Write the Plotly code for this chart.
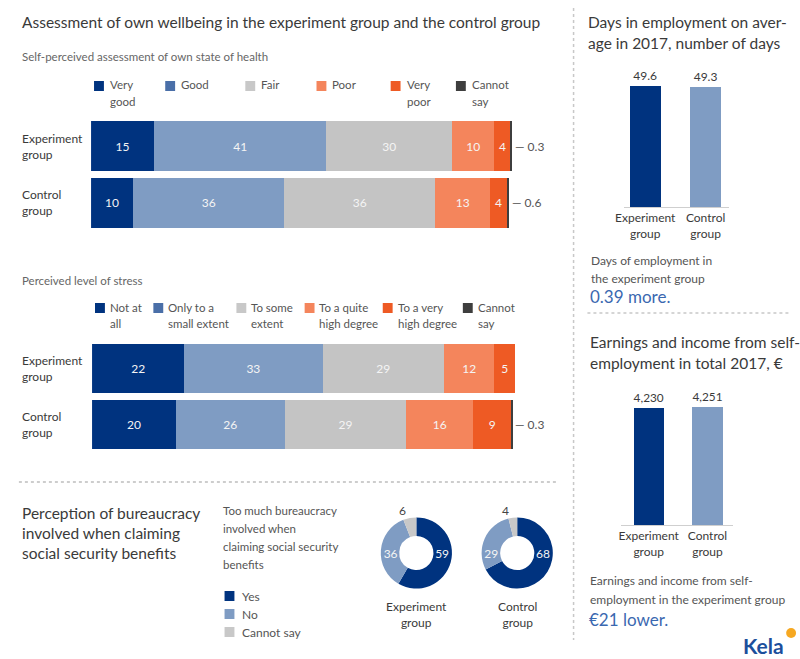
import plotly.graph_objects as go

# ---------------- data ----------------
health_cats = ["Very good", "Good", "Fair", "Poor", "Very poor", "Cannot say"]
health_legend = ["Very<br>good", "Good", "Fair", "Poor", "Very<br>poor", "Cannot<br>say"]
health_exp = [15, 41, 30, 10, 4, 0.3]
health_ctrl = [10, 36, 36, 13, 4, 0.6]

stress_cats = ["Not at all", "Only to a small extent", "To some extent",
               "To a quite high degree", "To a very high degree", "Cannot say"]
stress_legend = ["Not at<br>all", "Only to a<br>small extent", "To some<br>extent",
                 "To a quite<br>high degree", "To a very<br>high degree", "Cannot<br>say"]
stress_exp = [22, 33, 29, 12, 5, 0]
stress_ctrl = [20, 26, 29, 16, 9, 0.3]

group_rows = ["Control", "Experiment"]
group_labels = {"Experiment": "Experiment<br>group", "Control": "Control<br>group"}

bur_labels = ["Yes", "No", "Cannot say"]
bur_exp = [59, 36, 6]
bur_ctrl = [68, 29, 4]
bur_groups = ["Experiment<br>group", "Control<br>group"]

bar_groups = ["Experiment<br>group", "Control<br>group"]
days_values = [49.6, 49.3]
earn_values = [4230, 4251]

# ---------------- styles ----------------
W, H = 800, 659
FONT = "Lato"
DARK = "#00337f"
LIGHT = "#7f9cc3"
GRAY = "#c4c4c4"
SALMON = "#f4855c"
ORANGE = "#ee5a24"
CHAR = "#3e3e3e"
seg_colors = [DARK, LIGHT, GRAY, SALMON, ORANGE, CHAR]
legend_sq_colors = [DARK, "#4a6fa8", "#c8c8c8", SALMON, ORANGE, CHAR]
TXT = "#3a3a3a"
SUB = "#666666"
ACCENT = "#3a68b0"


def X(px):
    return px / W


def Y(py):
    return 1 - py / H


fig = go.Figure()
annotations = []
shapes = []


def txt(x, y, s, size=12, color=TXT, xanchor="left", yanchor="middle", **kw):
    annotations.append(dict(xref="paper", yref="paper", x=X(x), y=Y(y), text=s,
                            showarrow=False, xanchor=xanchor, yanchor=yanchor,
                            font=dict(size=size, color=color, family=FONT), **kw))


def lines(x, y0, step, items, size=12, color=TXT, xanchor="left"):
    for i, s in enumerate(items):
        txt(x, y0 + i * step, s, size=size, color=color, xanchor=xanchor)


# ---------------- stacked bars ----------------
def stacked(exp_vals, ctrl_vals, cats, xa, ya):
    for i, c in enumerate(cats):
        vals = [ctrl_vals[i], exp_vals[i]]
        is_cs = (c == "Cannot say")
        fig.add_trace(go.Bar(
            x=vals, y=group_rows, orientation="h", name=c,
            marker=dict(color=seg_colors[i], line=dict(width=0)),
            width=0.885,
            text=[("" if v == 0 else f"{v:g}") for v in vals],
            textposition="none" if is_cs else "inside",
            insidetextanchor="middle", textangle=0,
            textfont=dict(color="#f4f4f4", size=12, family=FONT),
            xaxis=xa, yaxis=ya, hoverinfo="skip"))
    # small "cannot say" values to the right of bars
    for row, vals in (("Control", ctrl_vals), ("Experiment", exp_vals)):
        if vals[-1] > 0:
            annotations.append(dict(xref=xa, yref=ya, x=sum(vals), y=row,
                                    text=f"— {vals[-1]:g}", showarrow=False,
                                    xanchor="left", xshift=1,
                                    font=dict(size=12, color="#555", family=FONT)))
    for row in group_rows:
        annotations.append(dict(xref="paper", yref=ya, x=X(11), y=row,
                                text=group_labels[row], showarrow=False,
                                xanchor="left", align="left",
                                font=dict(size=12, color=TXT, family=FONT)))


stacked(health_exp, health_ctrl, health_cats, "x", "y")
stacked(stress_exp, stress_ctrl, stress_cats, "x2", "y2")

# ---------------- donuts ----------------
pie_domains = [(376, 448), (478, 550)]
for vals, dom, glabel in zip((bur_exp, bur_ctrl), pie_domains, bur_groups):
    fig.add_trace(go.Pie(
        values=vals, labels=bur_labels, sort=False, direction="clockwise",
        rotation=0, hole=0.48,
        marker=dict(colors=[DARK, LIGHT, "#c8c8c8"], line=dict(width=0)),
        textinfo="value",
        textposition=["inside", "inside", "outside"],
        insidetextorientation="horizontal",
        insidetextfont=dict(color="#f4f4f4", size=12, family=FONT),
        outsidetextfont=dict(color="#444", size=12, family=FONT),
        domain=dict(x=[X(dom[0]), X(dom[1])], y=[Y(589), Y(517)]),
        hoverinfo="skip", showlegend=False))
    cx = (dom[0] + dom[1]) / 2
    txt(cx, 614, glabel, size=12, color=TXT, xanchor="center", align="center")

# ---------------- vertical bars ----------------
fig.add_trace(go.Bar(
    x=bar_groups, y=days_values, marker=dict(color=[DARK, LIGHT], line=dict(width=0)),
    width=0.508, text=[f"{v:g}" for v in days_values], textposition="outside",
    textfont=dict(size=12, color=TXT, family=FONT), cliponaxis=False,
    xaxis="x3", yaxis="y3", hoverinfo="skip"))
fig.add_trace(go.Bar(
    x=bar_groups, y=earn_values, marker=dict(color=[DARK, LIGHT], line=dict(width=0)),
    width=0.513, text=[f"{v:,}" for v in earn_values], textposition="outside",
    textfont=dict(size=12, color=TXT, family=FONT), cliponaxis=False,
    xaxis="x4", yaxis="y4", hoverinfo="skip"))

# ---------------- axes ----------------
hid = dict(visible=False, fixedrange=True)
layout_axes = dict(
    xaxis=dict(domain=[X(83), X(509)], range=[0, max(sum(health_exp), sum(health_ctrl))],
               anchor="y", **hid),
    yaxis=dict(domain=[Y(231), Y(118)], type="category", categoryarray=group_rows,
               range=[-0.5, 1.5], anchor="x", **hid),
    xaxis2=dict(domain=[X(84), X(512)], range=[0, max(sum(stress_exp), sum(stress_ctrl))],
                anchor="y2", **hid),
    yaxis2=dict(domain=[Y(452), Y(341)], type="category", categoryarray=group_rows,
                range=[-0.5, 1.5], anchor="x2", **hid),
    xaxis3=dict(domain=[X(622), X(728)], range=[-0.352, 1.385], anchor="y3",
                showline=True, linecolor="#cfcfcf", linewidth=1, ticks="",
                showgrid=False, zeroline=False,
                tickfont=dict(size=12, color=TXT, family=FONT), fixedrange=True),
    yaxis3=dict(domain=[Y(207), Y(86)], range=[0, max(days_values)], anchor="x3", **hid),
    xaxis4=dict(domain=[X(619), X(732)], range=[-0.47, 1.43], anchor="y4",
                showline=True, linecolor="#cfcfcf", linewidth=1, ticks="",
                showgrid=False, zeroline=False,
                tickfont=dict(size=12, color=TXT, family=FONT), fixedrange=True),
    yaxis4=dict(domain=[Y(525), Y(407)], range=[0, max(earn_values)], anchor="x4", **hid),
)

# ---------------- texts ----------------
txt(11, 22, "Assessment of own wellbeing in the experiment group and the control group",
    size=15.5, color=TXT)
txt(11, 56, "Self-perceived assessment of own state of health", size=11.5, color=SUB)

health_sq_x = [86, 158, 239, 311, 386, 452]
for sx, col, lab in zip(health_sq_x, legend_sq_colors, health_legend):
    shapes.append(dict(type="rect", xref="paper", yref="paper", x0=X(sx), x1=X(sx + 10),
                       y0=Y(91), y1=Y(81), fillcolor=col, line=dict(width=0)))
    parts = lab.split("<br>")
    lines(sx + 14, 85, 16, parts, size=11.5, color="#555")

txt(11, 280, "Perceived level of stress", size=11.5, color=SUB)
stress_sq_x = [87, 146, 230, 299, 378, 459]
for sx, col, lab in zip(stress_sq_x, legend_sq_colors, stress_legend):
    shapes.append(dict(type="rect", xref="paper", yref="paper", x0=X(sx), x1=X(sx + 10),
                       y0=Y(313), y1=Y(303), fillcolor=col, line=dict(width=0)))
    parts = lab.split("<br>")
    lines(sx + 13, 308, 15, parts, size=11.5, color="#555")

# bottom section
shapes.append(dict(type="line", xref="paper", yref="paper", x0=X(10), x1=X(556),
                   y0=Y(482), y1=Y(482), line=dict(color="#bdbdbd", width=1.5, dash="dot")))
lines(11, 513, 20, ["Perception of bureaucracy", "involved when claiming",
                    "social security benefits"], size=15.5, color=TXT)
lines(214, 510, 18, ["Too much bureaucracy", "involved when",
                     "claiming social security", "benefits"], size=11.5, color="#555")
for i, (lab, col) in enumerate(zip(bur_labels, [DARK, LIGHT, "#c8c8c8"])):
    yy = 596 + i * 18
    shapes.append(dict(type="rect", xref="paper", yref="paper", x0=X(218), x1=X(228),
                       y0=Y(yy + 5), y1=Y(yy - 5), fillcolor=col, line=dict(width=0)))
    txt(234, yy, lab, size=12, color="#555")

# right panel
shapes.append(dict(type="line", xref="paper", yref="paper", x0=X(571), x1=X(571),
                   y0=Y(8), y1=Y(640), line=dict(color="#c8c8c8", width=1.5, dash="dot")))
shapes.append(dict(type="line", xref="paper", yref="paper", x0=X(585), x1=X(790),
                   y0=Y(313), y1=Y(313), line=dict(color="#c8c8c8", width=1.5, dash="dot")))
lines(584, 22, 21, ["Days in employment on aver-", "age in 2017, number of days"],
      size=15.5, color=TXT)
lines(587, 260, 18, ["Days of employment in", "the experiment group"], size=12, color="#555")
txt(586, 297, "0.39 more.", size=17, color=ACCENT)

lines(586, 342, 21, ["Earnings and income from self-", "employment in total 2017, €"],
      size=15.5, color=TXT)
lines(586, 580, 19, ["Earnings and income from self-", "employment in the experiment group"],
      size=12, color="#555")
txt(585, 619, "€21 lower.", size=17, color=ACCENT)

# Kela logo
txt(740, 645, "<b>Kela</b>", size=21, color="#1c4f9c")
shapes.append(dict(type="circle", xref="paper", yref="paper", x0=X(786), x1=X(796),
                   y0=Y(638), y1=Y(628), fillcolor="#f6a821", line=dict(width=0)))

fig.update_layout(
    width=W, height=H, margin=dict(l=0, r=0, t=0, b=0),
    paper_bgcolor="white", plot_bgcolor="white",
    barmode="stack", showlegend=False,
    font=dict(family=FONT, color=TXT),
    annotations=annotations, shapes=shapes,
    **layout_axes)

fig.write_html("out.html")
